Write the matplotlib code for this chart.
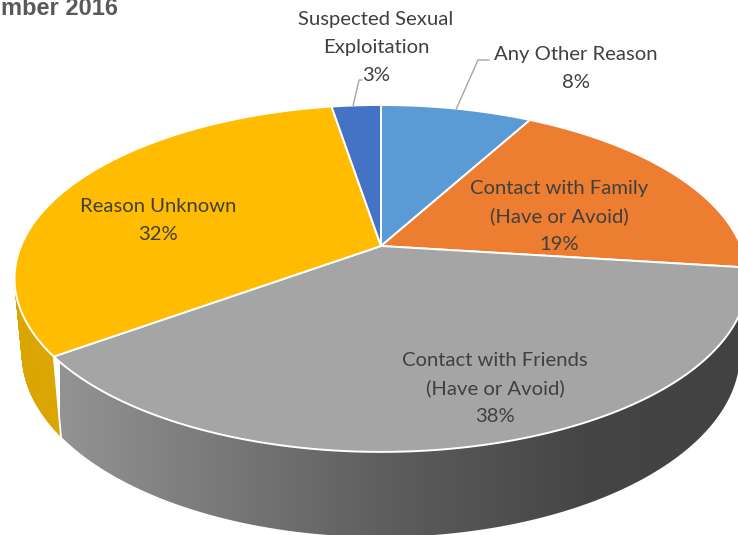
import numpy as np
import matplotlib
matplotlib.use('Agg')
import matplotlib.pyplot as plt
from matplotlib.collections import PolyCollection
from matplotlib.colors import LinearSegmentedColormap
from matplotlib.patches import Polygon

# Slices, clockwise from 12 o'clock
labels = [['Any Other Reason'], ['Contact with Family', '(Have or Avoid)'],
          ['Contact with Friends', '(Have or Avoid)'], ['Reason Unknown'],
          ['Suspected Sexual', 'Exploitation']]
shares = [8, 19, 38, 32.4, 2.6]
percents = ['8%', '19%', '38%', '32%', '3%']

colors = ['#5B9BD5', '#ED7D31', '#A5A5A5', '#FFBC00', '#4472C4']
label_xy = [(576, 53), (559, 187), (495, 359), (158, 205), (376, 18)]
LINE_STEP = 28.2

# Perspective of the pie in pixels
CX, CY = 381, 246
RX, RY = 360, 167.4
TILT = 0.187
DEPTH = 75
BACK = 0.02


def project(angle, r=1.0, lower=False):
    u = r * np.sin(angle)
    v = -r * np.cos(angle)
    w = 1 - TILT * v
    if lower:
        w = w + BACK
        return CX + RX * u / w, CY + (RY * v + DEPTH) / w
    return CX + RX * u / w, CY + RY * v / w


fig = plt.figure(figsize=(7.38, 5.35), dpi=100)
ax = fig.add_axes([0, 0, 1, 1])
ax.set_xlim(0, 738)
ax.set_ylim(535, 0)
ax.axis('off')

edges = np.cumsum([0] + shares) / sum(shares) * 2 * np.pi

# Side wall first, the top face goes over it
gray_side = LinearSegmentedColormap.from_list(
    'side', [(0, '#939393'), (0.28, '#747474'), (0.5, '#5C5C5C'),
             (0.78, '#454545'), (1, '#424242')])

# Gray piece with the left-to-right shading
t = np.linspace(edges[2], edges[3], 300)
x1, y1 = project(t)
x2, y2 = project(t, lower=True)
poly = Polygon(np.r_[np.c_[x1, y1], np.c_[x2, y2][::-1]], closed=True, fc='none', ec='none')
ax.add_patch(poly)
grad = np.linspace(0, 1, 256).reshape(1, -1)
img = ax.imshow(grad, cmap=gray_side, extent=(60, 738, 560, 200), aspect='auto', zorder=1)
img.set_clip_path(poly)

# Yellow piece as small quads so the outline follows the silhouette
t = np.linspace(edges[3], edges[4], 200)
x1, y1 = project(t)
x2, y2 = project(t, lower=True)
quads = [[(x1[k], y1[k]), (x1[k + 1], y1[k + 1]), (x2[k + 1], y2[k + 1]), (x2[k], y2[k])]
         for k in range(len(t) - 1)]
ax.add_collection(PolyCollection(quads, facecolors='#DBA500', edgecolors='#DBA500',
                                 linewidths=0.5, zorder=1))

# Seam between the two visible side pieces
x1, y1 = project(edges[3])
x2, y2 = project(edges[3], lower=True)
ax.plot([x1, x2], [y1, y2], color='white', lw=1.3, zorder=2)

# Top face
for i in range(len(shares)):
    t = np.linspace(edges[i], edges[i + 1], 200)
    x, y = project(t)
    pts = np.r_[[[CX, CY]], np.c_[x, y]]
    ax.add_patch(Polygon(pts, closed=True, fc=colors[i], ec='white', lw=1.4,
                         joinstyle='round', zorder=3))

# Leader lines
ax.plot([project(-0.092)[0], 359, 362], [project(-0.092)[1], 80, 80],
        color='#A6A6A6', lw=1, zorder=4)
ax.plot([project(0.25)[0], 478, 489], [project(0.25)[1], 60, 60],
        color='#A6A6A6', lw=1, zorder=4)

# Labels
for name, pct, (lx, ly) in zip(labels, percents, label_xy):
    for k, line in enumerate(name + [pct]):
        ax.text(lx, ly + k * LINE_STEP, line, ha='center', va='center_baseline',
                color='#404040', fontsize=14.6, family='Lato', zorder=5)

ax.text(118, 15, 'mber 2016', ha='right', va='baseline', color='#595959',
        fontsize=17, fontweight='bold', family='Liberation Sans')

fig.savefig('out.png', dpi=100)
